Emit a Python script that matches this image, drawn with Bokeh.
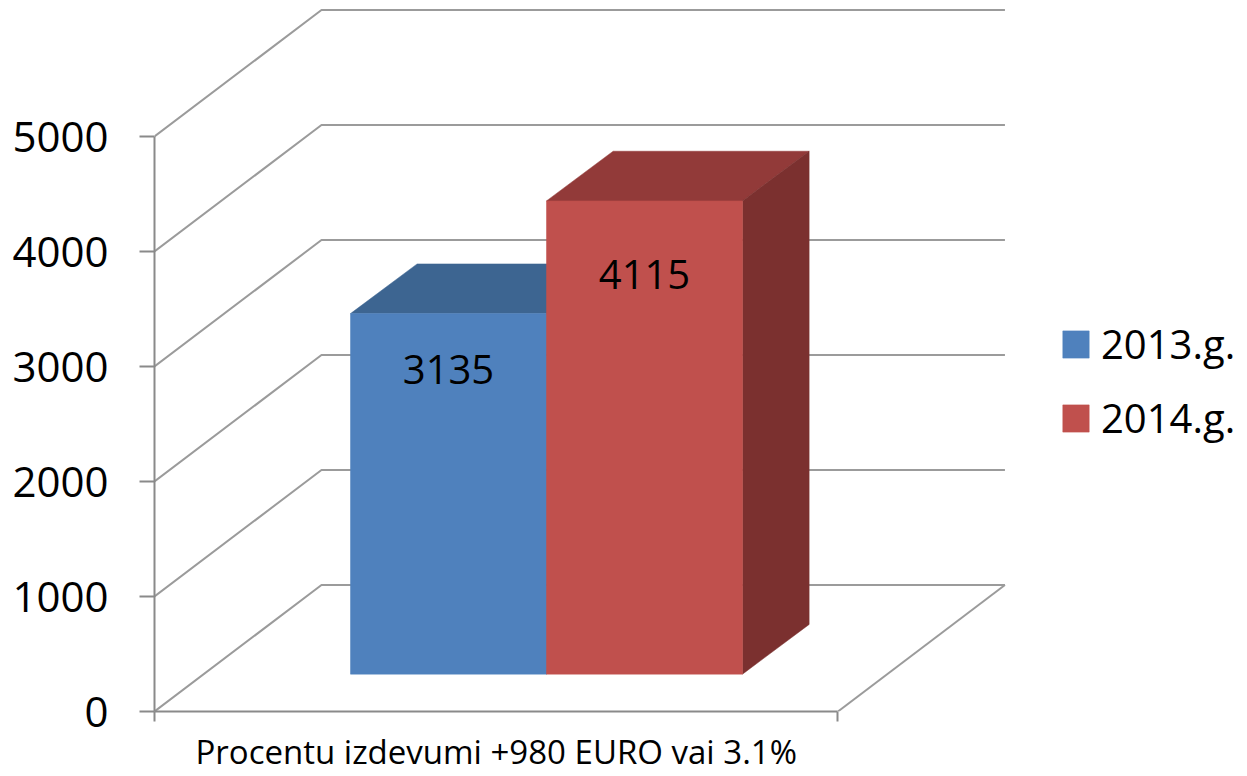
from bokeh.plotting import figure
from bokeh.models import Range1d, FixedTicker, Legend, LegendItem
from bokeh.core.properties import value
from bokeh.embed import file_html
from bokeh.resources import INLINE

# ---- data ----
categories = ["Procentu izdevumi +980 EURO vai 3.1%"]
series = ["2013.g.", "2014.g."]
values = [3135, 4115]
y_ticks = [0, 1000, 2000, 3000, 4000, 5000]

# ---- style ----
front_colors = ["#4f81bd", "#c0504d"]
top_colors = ["#3d6591", "#923a39"]
side_colors = ["#345782", "#7b302f"]
GRID = "#9b9b9b"
AXIS = "#8a8a8a"
FONT = "Open Sans"

W, H = 1247, 776
LEFT, BOTTOM = 154, 65
PX_X = 196.0      # px per x unit
PX_Y = 0.115      # px per value unit
frame_w = W - LEFT
frame_h = H - BOTTOM

AXIS_END = 3.487  # length of front floor edge (x units)
WALL_DX, WALL_DY = 0.852, 1100   # depth offset of back wall
BAR_DX, BAR_DY = 0.34, 432       # depth of bars
BAR_BASE = 325                   # bars' floor level at their front face
BAR_X0, BAR_W = 1.0, 1.0
LABEL_FRAC = 0.845

p = figure(width=W, height=H,
           x_range=Range1d(0, frame_w / PX_X),
           y_range=Range1d(0, frame_h / PX_Y),
           output_backend="svg", toolbar_location=None,
           min_border_left=LEFT, min_border_right=0,
           min_border_top=0, min_border_bottom=BOTTOM)
p.outline_line_color = None
p.xgrid.visible = False
p.ygrid.visible = False
p.background_fill_color = "white"
p.border_fill_color = "white"

# back wall + left wall gridlines
xs, ys = [], []
for v in y_ticks:
    xs.append([0, WALL_DX, AXIS_END + WALL_DX])
    ys.append([v, v + WALL_DY, v + WALL_DY])
# floor right edge
xs.append([AXIS_END, AXIS_END + WALL_DX])
ys.append([0, WALL_DY])
p.multi_line(xs, ys, line_color=GRID, line_width=2)

# bars
front_renderers = []
for i, (name, v) in enumerate(zip(series, values)):
    x0 = BAR_X0 + i * BAR_W
    x1 = x0 + BAR_W
    y0 = BAR_BASE
    y1 = BAR_BASE + v
    p.patch([x0, x1, x1 + BAR_DX, x0 + BAR_DX], [y1, y1, y1 + BAR_DY, y1 + BAR_DY],
            fill_color=top_colors[i], line_color=top_colors[i], line_width=0.5)
    p.patch([x1, x1 + BAR_DX, x1 + BAR_DX, x1], [y0, y0 + BAR_DY, y1 + BAR_DY, y1],
            fill_color=side_colors[i], line_color=side_colors[i], line_width=0.5)
    r = p.quad(left=[x0], right=[x1], bottom=[y0], top=[y1],
               fill_color=front_colors[i], line_color=front_colors[i], line_width=0.5)
    front_renderers.append(r)
    p.text(x=[(x0 + x1) / 2], y=[BAR_BASE + v * LABEL_FRAC], text=[str(v)],
           text_align="center", text_baseline="middle",
           text_font=value(FONT), text_font_size="40px", text_color="black")

# y axis
ya = p.yaxis[0]
ya.bounds = (0, 5000)
ya.ticker = FixedTicker(ticks=y_ticks)
ya.axis_line_color = AXIS
ya.axis_line_width = 2
ya.major_tick_line_color = AXIS
ya.major_tick_line_width = 2
ya.major_tick_in = 0
ya.major_tick_out = 15
ya.minor_tick_line_color = None
ya.major_label_standoff = 31
ya.major_label_text_font = FONT
ya.major_label_text_font_size = "42px"
ya.major_label_text_color = "black"

# x axis
mid = AXIS_END / 2
xa = p.xaxis[0]
xa.bounds = (0, AXIS_END)
xa.ticker = FixedTicker(ticks=[mid], minor_ticks=[0, AXIS_END])
xa.major_label_overrides = {mid: categories[0]}
xa.axis_line_color = AXIS
xa.axis_line_width = 2
xa.major_tick_line_color = None
xa.major_tick_in = 0
xa.major_tick_out = 0
xa.minor_tick_line_color = AXIS
xa.minor_tick_line_width = 2
xa.minor_tick_in = 0
xa.minor_tick_out = 10
xa.major_label_standoff = 7
xa.major_label_text_font = FONT
xa.major_label_text_font_size = "33px"
xa.major_label_text_color = "black"

legend = Legend(items=[LegendItem(label=s, renderers=[r]) for s, r in zip(series, front_renderers)],
                location=(905, 266), glyph_width=33, glyph_height=34,
                label_text_font=FONT, label_text_font_size="40px", label_text_color="black",
                label_standoff=9, spacing=19, padding=0, margin=0,
                border_line_color=None, background_fill_alpha=0)
p.add_layout(legend)

open("out.html", "w").write(file_html(p, INLINE))
